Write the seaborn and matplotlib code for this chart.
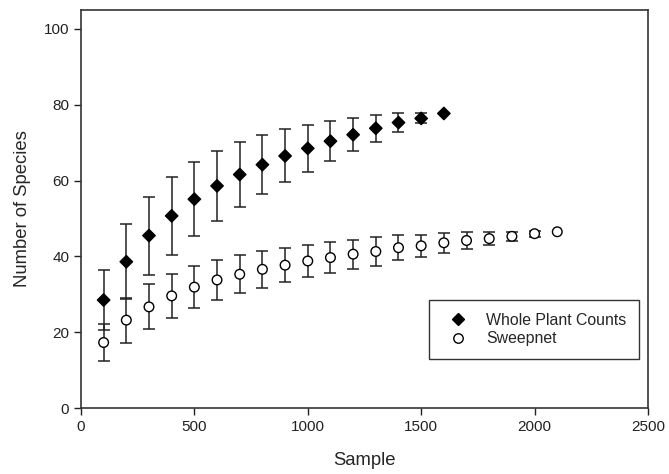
import pandas as pd
import numpy as np
import matplotlib
matplotlib.use("Agg")
import matplotlib.pyplot as plt
import seaborn as sns

# sample sizes
whole_x = [100, 200, 300, 400, 500, 600, 700, 800, 900, 1000, 1100, 1200, 1300, 1400, 1500, 1600]
whole_mean = [28.5, 38.6, 45.5, 50.7, 55.1, 58.6, 61.6, 64.2, 66.5, 68.5, 70.4, 72.1, 73.8, 75.3, 76.4, 77.7]
whole_err = [7.9, 9.9, 10.3, 10.2, 9.8, 9.2, 8.5, 7.7, 7.0, 6.2, 5.3, 4.4, 3.6, 2.4, 1.3, 0.0]

sweep_x = [100, 200, 300, 400, 500, 600, 700, 800, 900, 1000, 1100, 1200, 1300, 1400, 1500, 1600,
           1700, 1800, 1900, 2000, 2100]
sweep_mean = [17.3, 23.2, 26.7, 29.6, 31.9, 33.8, 35.3, 36.6, 37.7, 38.8, 39.7, 40.6, 41.3, 42.3, 42.8,
              43.6, 44.2, 44.7, 45.3, 46.0, 46.5]
sweep_err = [5.0, 5.9, 5.9, 5.8, 5.5, 5.3, 5.0, 4.8, 4.5, 4.3, 4.1, 3.8, 3.7, 3.3, 2.9, 2.6, 2.2,
             1.8, 1.1, 0.8, 0.0]

df = pd.concat([
    pd.DataFrame({"Sample": whole_x, "Species": whole_mean, "err": whole_err, "Method": "Whole Plant Counts"}),
    pd.DataFrame({"Sample": sweep_x, "Species": sweep_mean, "err": sweep_err, "Method": "Sweepnet"}),
], ignore_index=True)

sns.set_style("ticks")
plt.rcParams["font.family"] = ["Liberation Sans", "DejaVu Sans"]

fig = plt.figure(figsize=(6.69, 4.74), dpi=100)
ax = fig.add_axes([0.121, 0.139, 0.8476, 0.840])

# error bars behind markers
for method, d in df.groupby("Method"):
    e = d[d["err"] > 0]
    ax.errorbar(e["Sample"], e["Species"], yerr=e["err"], fmt="none", ecolor="#222222",
                elinewidth=1.1, capsize=4.6, capthick=1.1, zorder=2)

sns.scatterplot(data=df, x="Sample", y="Species", hue="Method", style="Method", size="Method",
                markers={"Whole Plant Counts": "D", "Sweepnet": "o"},
                palette={"Whole Plant Counts": "black", "Sweepnet": "white"},
                sizes={"Whole Plant Counts": 40, "Sweepnet": 48},
                edgecolor="black", linewidth=1.0, zorder=3, ax=ax, legend=False)

ax.set_xlim(0, 2500)
ax.set_ylim(0, 105)
ax.set_xticks([0, 500, 1000, 1500, 2000, 2500])
ax.set_yticks([0, 20, 40, 60, 80, 100])
ax.tick_params(axis="both", direction="out", length=5, width=1, labelsize=11, colors="#222222",
               top=False, right=False)
for sp in ax.spines.values():
    sp.set_linewidth(1.2)
    sp.set_color("#333333")
    sp.set_visible(True)

ax.set_xlabel("Sample", fontsize=13.3, labelpad=13)
ax.set_ylabel("Number of Species", fontsize=13.3, labelpad=9)

h1 = plt.Line2D([], [], marker="D", color="black", linestyle="none", markersize=6)
h2 = plt.Line2D([], [], marker="o", markerfacecolor="white", markeredgecolor="black",
                linestyle="none", markersize=6.8)
leg = ax.legend([h1, h2], ["Whole Plant Counts", "Sweepnet"], loc="lower right",
                bbox_to_anchor=(0.984, 0.123), fontsize=11.4, frameon=True, fancybox=False,
                edgecolor="#333333", framealpha=1, borderpad=0.8, handletextpad=0.8,
                labelspacing=0.25, borderaxespad=0)
leg.get_frame().set_linewidth(1.0)

fig.savefig("out.png", dpi=100)
